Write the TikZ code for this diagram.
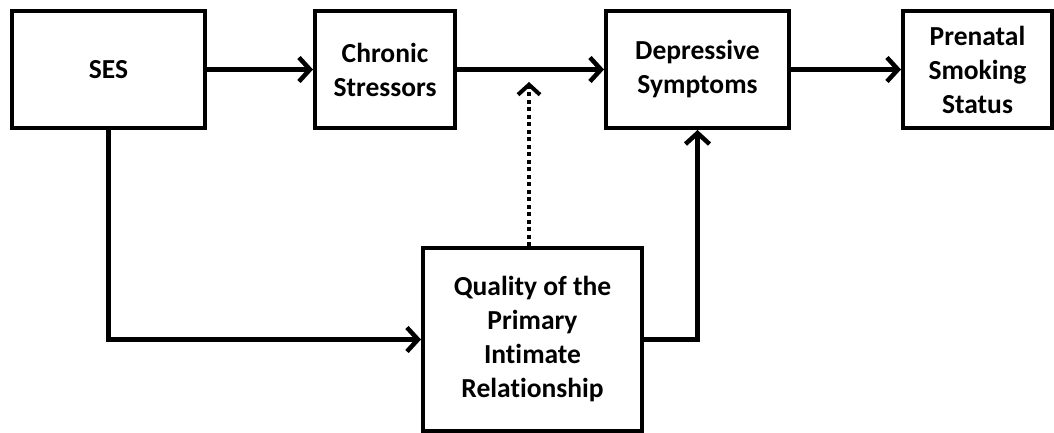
\documentclass[tikz,border=0pt]{standalone}
\usepackage{fontspec}
\setmainfont{Carlito}[Ligatures=NoCommon]
\usetikzlibrary{arrows.meta}
\tikzset{
  box/.style={draw=black, line width=4pt, fill=white, inner sep=0pt, align=center,
    font=\bfseries\fontsize{27.5pt}{34pt}\selectfont},
  arr/.style={line width=4.5pt, -{Straight Barb[length=11pt,width=24pt,line width=4.5pt]}},
  modarr/.style={line width=4pt, dash pattern=on 4pt off 3.5pt,
    -{Straight Barb[length=10pt,width=22pt,line width=4pt]}}
}
\begin{document}
\begin{tikzpicture}[x=1pt,y=-1pt]
\useasboundingbox (0,0) rectangle (1054,432);
\node[box, minimum width=193pt, minimum height=117pt] (ses) at (108.5,69.5) {SES};
\node[box, minimum width=140pt, minimum height=117pt] (chr) at (385,69.5) {Chronic\\Stressors};
\node[box, minimum width=183pt, minimum height=117pt] (dep) at (697.5,69.5) {Depressive\\Symptoms};
\node[box, minimum width=149pt, minimum height=117pt] (pre) at (977.5,69.5) {Prenatal\\Smoking\\Status};
\node[box, minimum width=219pt, minimum height=183pt] (qua) at (532.5,339.5) {Quality of the\\Primary\\Intimate\\Relationship};
\coordinate (mod) at (529,82);
\draw[arr] (ses.east) -- (chr.west);
\draw[arr] (chr.east) -- (dep.west);
\draw[arr] (dep.east) -- (pre.west);
\draw[arr] (ses.south) |- (qua.west);
\draw[arr] (qua.east) -| (dep.south);
\draw[modarr] (mod |- qua.north) -- (mod);
\end{tikzpicture}
\end{document}
